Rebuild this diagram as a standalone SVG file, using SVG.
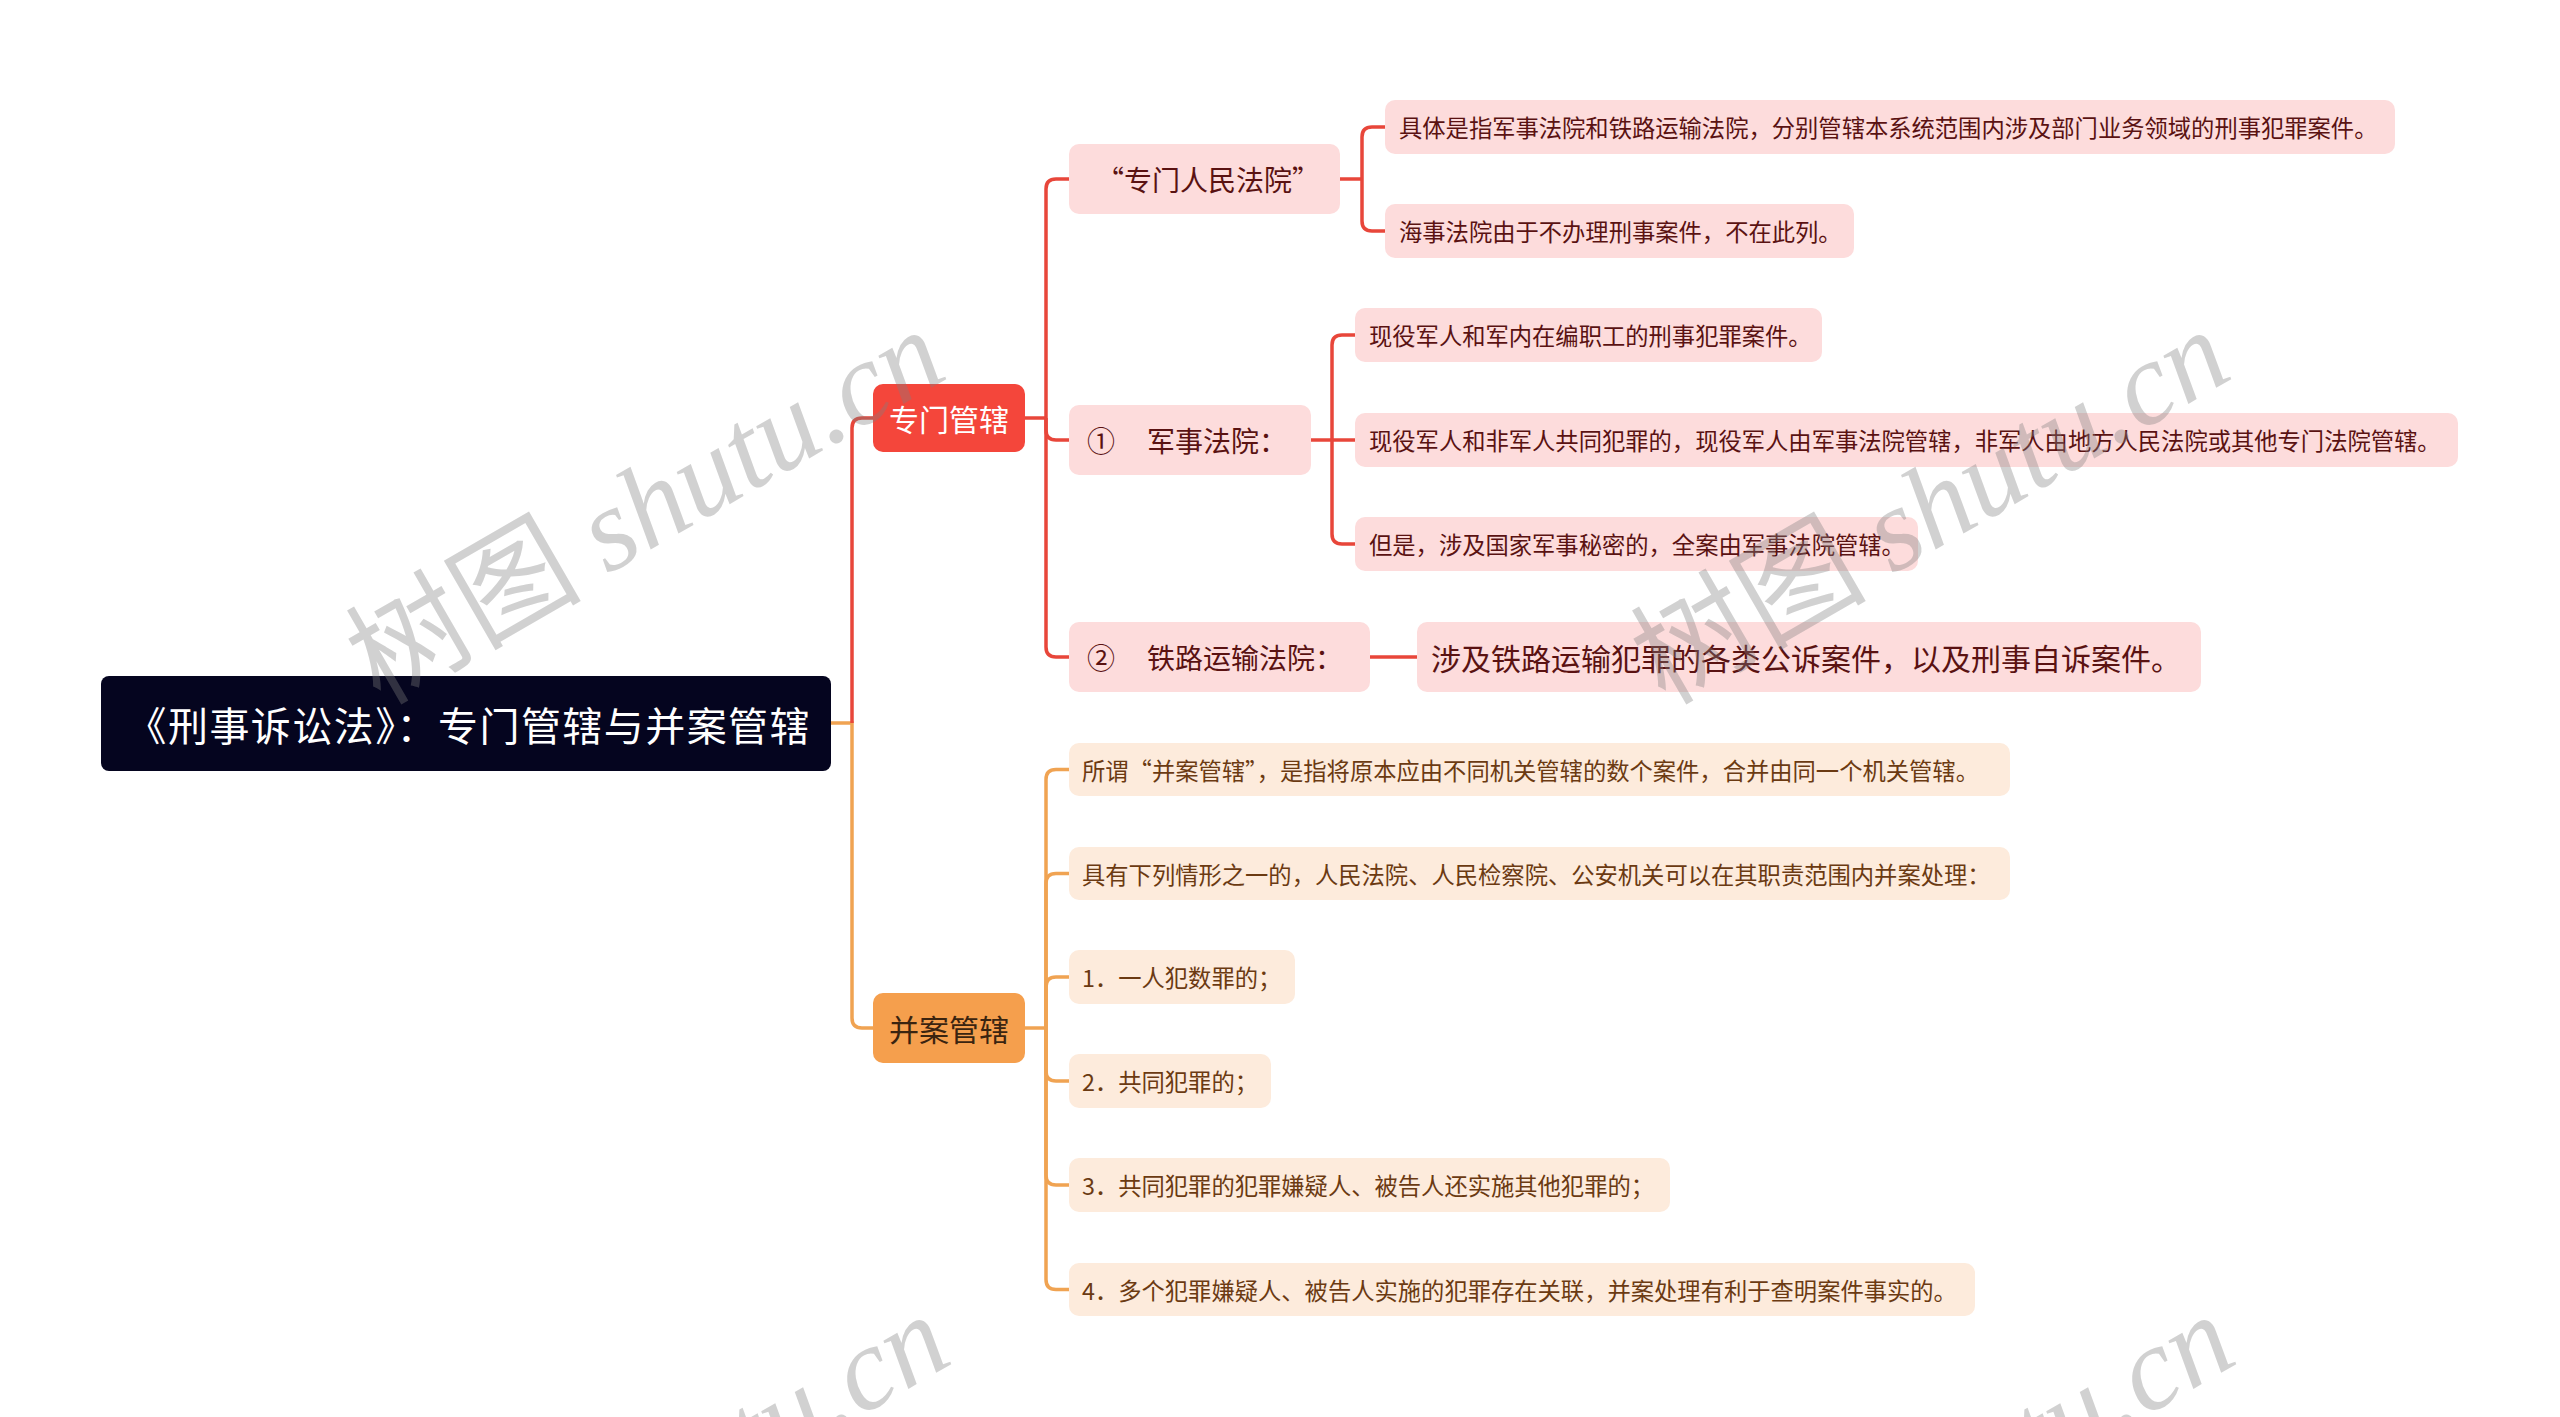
<svg xmlns="http://www.w3.org/2000/svg" width="2560" height="1417" viewBox="0 0 2560 1417">
<style>
text{font-family:"Noto Sans CJK SC","Noto Sans",sans-serif;dominant-baseline:central}
.root rect{fill:#05051f}
.root text{fill:#ffffff;font-size:40px;text-anchor:middle}
.b1 rect{fill:#f4463b}
.b1 text{fill:#ffffff;font-size:30px;text-anchor:middle}
.b2 rect{fill:#f59f4d}
.b2 text{fill:#3a2410;font-size:30px;text-anchor:middle}
.r2 rect,.r3 rect{fill:#fddcdc}
.r2 text{fill:#5a1212;font-size:28px}
.r3 text{fill:#5a1212;font-size:23.3px}
.o3 rect{fill:#fdebdc}
.o3 text{fill:#6b3a12;font-size:23.3px}
.cr{fill:none;stroke:#e8463a;stroke-width:3.5}
.co{fill:none;stroke:#f0a352;stroke-width:3.5}
.wm{fill:#808080;fill-opacity:0.36;font-size:118px;dominant-baseline:alphabetic}
.wm tspan.l{font-family:"Liberation Serif",serif;font-style:italic}
</style>
<g id="connectors">
<path class="co" d="M831,723 H852 V1018 Q852,1028 862,1028 H873"/>
<path class="cr" d="M852,723 V428 Q852,418 862,418 H873"/>
<path class="cr" d="M1025,418 H1046"/>
<path class="cr" d="M1046,418 V189 Q1046,179 1056,179 H1069"/>
<path class="cr" d="M1046,418 V430 Q1046,440 1056,440 H1069"/>
<path class="cr" d="M1046,418 V647 Q1046,657 1056,657 H1069"/>
<path class="cr" d="M1340,179 H1362"/>
<path class="cr" d="M1362,179 V137 Q1362,127 1372,127 H1385"/>
<path class="cr" d="M1362,179 V221 Q1362,231 1372,231 H1385"/>
<path class="cr" d="M1311,440 H1332"/>
<path class="cr" d="M1332,440 V345 Q1332,335 1342,335 H1355"/>
<path class="cr" d="M1332,440 H1355"/>
<path class="cr" d="M1332,440 V534 Q1332,544 1342,544 H1355"/>
<path class="cr" d="M1370,657 H1417"/>
<path class="co" d="M1025,1028 H1046"/>
<path class="co" d="M1046,1028 V779.5 Q1046,769.5 1056,769.5 H1069"/>
<path class="co" d="M1046,1028 V883.5 Q1046,873.5 1056,873.5 H1069"/>
<path class="co" d="M1046,1028 V987 Q1046,977 1056,977 H1069"/>
<path class="co" d="M1046,1028 V1071 Q1046,1081 1056,1081 H1069"/>
<path class="co" d="M1046,1028 V1175 Q1046,1185 1056,1185 H1069"/>
<path class="co" d="M1046,1028 V1279.5 Q1046,1289.5 1056,1289.5 H1069"/>
</g>
<g id="root" class="root"><rect x="101" y="676" width="730" height="95" rx="8"/><text x="468" y="723.5" textLength="683" lengthAdjust="spacing">《刑事诉讼法》：专门管辖与并案管辖</text></g>
<g id="zhuanmen" class="b1"><rect x="873" y="384" width="152" height="68" rx="10"/><text x="949" y="418">专门管辖</text></g>
<g id="bingan" class="b2"><rect x="873" y="993" width="152" height="70" rx="10"/><text x="949" y="1028">并案管辖</text></g>
<g id="zmrmfy" class="r2"><rect x="1069" y="144" width="271" height="70" rx="10"/><text x="1208" y="179" style="text-anchor:middle">“专门人民法院”</text></g>
<g id="jsfy" class="r2"><rect x="1069" y="405" width="242" height="70" rx="10"/><text y="440"><tspan x="1087">①</tspan><tspan x="1147">军事法院：</tspan></text></g>
<g id="tlysfy" class="r2"><rect x="1069" y="622" width="301" height="70" rx="10"/><text y="657"><tspan x="1087">②</tspan><tspan x="1147">铁路运输法院：</tspan></text></g>
<g id="tlys-1" class="r2"><rect x="1417" y="622" width="784" height="70" rx="10"/><text x="1431" y="657" style="font-size:30px">涉及铁路运输犯罪的各类公诉案件，以及刑事自诉案件。</text></g>
<g id="zm-1" class="r3"><rect x="1385" y="100" width="1010" height="54" rx="10"/><text x="1399" y="127">具体是指军事法院和铁路运输法院，分别管辖本系统范围内涉及部门业务领域的刑事犯罪案件。</text></g>
<g id="zm-2" class="r3"><rect x="1385" y="204" width="469" height="54" rx="10"/><text x="1399" y="231">海事法院由于不办理刑事案件，不在此列。</text></g>
<g id="js-1" class="r3"><rect x="1355" y="308" width="467" height="54" rx="10"/><text x="1369" y="335">现役军人和军内在编职工的刑事犯罪案件。</text></g>
<g id="js-2" class="r3"><rect x="1355" y="413" width="1103" height="54" rx="10"/><text x="1369" y="440">现役军人和非军人共同犯罪的，现役军人由军事法院管辖，非军人由地方人民法院或其他专门法院管辖。</text></g>
<g id="js-3" class="r3"><rect x="1355" y="517" width="563" height="54" rx="10"/><text x="1369" y="544">但是，涉及国家军事秘密的，全案由军事法院管辖。</text></g>
<g id="ba-1" class="o3"><rect x="1069" y="743" width="941" height="53" rx="10"/><text x="1082" y="769.5">所谓“并案管辖”，是指将原本应由不同机关管辖的数个案件，合并由同一个机关管辖。</text></g>
<g id="ba-2" class="o3"><rect x="1069" y="847" width="941" height="53" rx="10"/><text x="1082" y="873.5">具有下列情形之一的，人民法院、人民检察院、公安机关可以在其职责范围内并案处理：</text></g>
<g id="ba-3" class="o3"><rect x="1069" y="950" width="226" height="54" rx="10"/><text x="1082" y="977">1．一人犯数罪的；</text></g>
<g id="ba-4" class="o3"><rect x="1069" y="1054" width="202" height="54" rx="10"/><text x="1082" y="1081">2．共同犯罪的；</text></g>
<g id="ba-5" class="o3"><rect x="1069" y="1158" width="601" height="54" rx="10"/><text x="1082" y="1185">3．共同犯罪的犯罪嫌疑人、被告人还实施其他犯罪的；</text></g>
<g id="ba-6" class="o3"><rect x="1069" y="1263" width="906" height="53" rx="10"/><text x="1082" y="1289.5">4．多个犯罪嫌疑人、被告人实施的犯罪存在关联，并案处理有利于查明案件事实的。</text></g>
<g id="watermark">
<text class="wm" transform="translate(380,706) rotate(-30)">树图 <tspan class="l">shutu.cn</tspan></text>
<text class="wm" transform="translate(1665,706) rotate(-30)">树图 <tspan class="l">shutu.cn</tspan></text>
<text class="wm" transform="translate(385,1691) rotate(-30)">树图 <tspan class="l">shutu.cn</tspan></text>
<text class="wm" transform="translate(1670,1691) rotate(-30)">树图 <tspan class="l">shutu.cn</tspan></text>
</g>
</svg>
